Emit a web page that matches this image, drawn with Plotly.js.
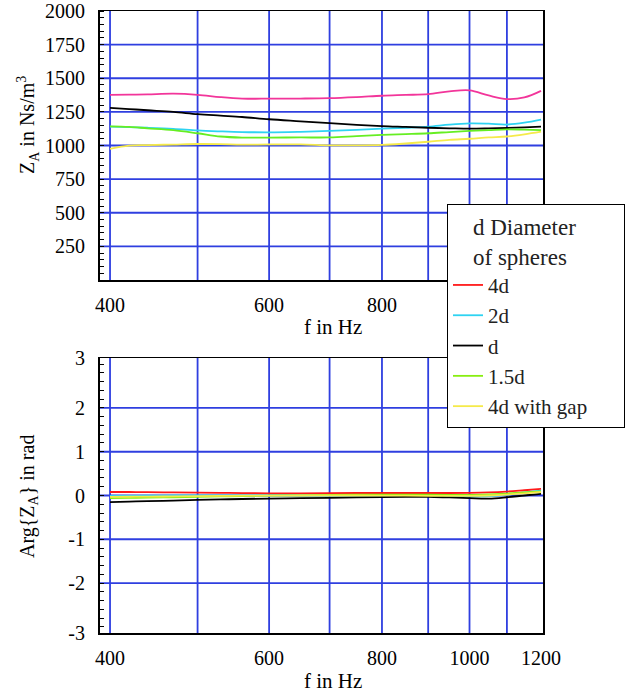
<!DOCTYPE html>
<html>
<head>
<meta charset="utf-8">
<script src="https://cdn.plot.ly/plotly-3.0.1.min.js"></script>
<style>html,body{margin:0;padding:0;background:#fff;}#chart{width:627px;height:696px;}</style>
</head>
<body>
<div id="chart"></div>
<script>
// Frequencies (Hz)
const freq = [400, 420, 440, 470, 500, 530, 560, 600, 650, 700, 750, 800, 850, 900, 950, 1000, 1050, 1100, 1150, 1200];

// Series names
const seriesNames = ['4d', '2d', 'd', '1.5d', '4d with gap'];

// |Z_A| in Ns/m^3 (top chart)
const magA_4d     = [1377, 1378, 1380, 1385, 1377, 1360, 1349, 1348, 1349, 1352, 1360, 1370, 1376, 1382, 1402, 1410, 1372, 1345, 1357, 1406];
const magA_2d     = [1140, 1136, 1132, 1124, 1112, 1105, 1100, 1098, 1102, 1108, 1116, 1125, 1132, 1140, 1155, 1164, 1162, 1156, 1170, 1193];
const magA_d      = [1280, 1271, 1262, 1250, 1233, 1222, 1212, 1195, 1180, 1166, 1154, 1144, 1138, 1132, 1128, 1125, 1127, 1130, 1135, 1140];
const magA_1_5d   = [1142, 1138, 1128, 1114, 1091, 1067, 1059, 1059, 1060, 1060, 1070, 1079, 1085, 1091, 1100, 1108, 1114, 1120, 1118, 1115];
const magA_4dgap  = [975, 999, 1003, 1007, 1011, 1010, 1006, 1008, 1008, 1001, 1001, 1004, 1015, 1028, 1042, 1050, 1060, 1067, 1083, 1103];

// Arg{Z_A} in rad (bottom chart)
const argA_4d     = [0.08, 0.08, 0.075, 0.07, 0.065, 0.06, 0.055, 0.05, 0.05, 0.055, 0.057, 0.057, 0.057, 0.057, 0.057, 0.06, 0.07, 0.09, 0.12, 0.15];
const argA_2d     = [-0.01, -0.01, -0.005, 0, 0, 0, 0, 0, 0, 0, 0, -0.005, -0.01, -0.015, -0.02, -0.025, -0.015, 0.02, 0.07, 0.11];
const argA_d      = [-0.15, -0.14, -0.13, -0.115, -0.10, -0.09, -0.08, -0.07, -0.062, -0.055, -0.045, -0.035, -0.03, -0.03, -0.045, -0.06, -0.07, -0.04, 0.0, 0.035];
const argA_1_5d   = [-0.06, -0.055, -0.05, -0.04, -0.03, -0.022, -0.015, -0.005, 0.005, 0.012, 0.018, 0.02, 0.02, 0.018, 0.015, 0.012, 0.025, 0.045, 0.07, 0.095];
const argA_4dgap  = [-0.03, -0.028, -0.025, -0.02, -0.012, -0.008, -0.005, -0.002, 0, 0, 0, -0.002, -0.005, -0.008, -0.01, -0.01, 0.0, 0.02, 0.05, 0.08];

// Tick labels and grid positions
const xTickVals = [400, 600, 800, 1000, 1200];
const xTickText = ['400', '600', '800', '1000', '1200'];
const xGridVals = [400, 500, 600, 700, 800, 900, 1000, 1100];
const yTopTickVals = [250, 500, 750, 1000, 1250, 1500, 1750, 2000];
const yTopTickText = ['250', '500', '750', '1000', '1250', '1500', '1750', '2000'];
const yTopGridVals = [250, 500, 750, 1000, 1250, 1500, 1750];
const yBotTickVals = [-Math.PI, -2, -1, 0, 1, 2, Math.PI];
const yBotTickText = ['-3', '-2', '-1', '0', '1', '2', '3'];
const yBotGridVals = [-2, -1, 0, 1, 2];

const topColors = ['#f2359a', '#2ed3f2', '#000000', '#66ee22', '#f5ea4a'];
const botColors = ['#ff1a1a', '#2ed3f2', '#000000', '#88ee11', '#f5ea4a'];
const topData = [magA_4d, magA_2d, magA_d, magA_1_5d, magA_4dgap];
const botData = [argA_4d, argA_2d, argA_d, argA_1_5d, argA_4dgap];

const traces = [];
seriesNames.forEach((n, i) => {
  traces.push({x: freq, y: topData[i], xaxis: 'x', yaxis: 'y', type: 'scatter', mode: 'lines',
    name: n, legendgroup: n, showlegend: false, line: {color: topColors[i], width: 1.8, shape: 'spline'}});
});
seriesNames.forEach((n, i) => {
  traces.push({x: freq, y: botData[i], xaxis: 'x2', yaxis: 'y2', type: 'scatter', mode: 'lines',
    name: n, legendgroup: n, showlegend: true, line: {color: botColors[i], width: 1.8, shape: 'spline'}});
});

const W = 627, H = 696;
const gridCol = '#2f3fe0';
const FAM = 'Liberation Serif, Times New Roman, serif';
const font = {family: FAM, size: 20, color: '#000'};
const titleFont = {family: FAM, size: 21, color: '#000'};
const xr = [Math.log10(389.9), Math.log10(1206)];
const NB = '\u00a0';

function xaxisDef(anchor) {
  return {type: 'log', range: xr, domain: [100 / W, 543 / W], anchor: anchor,
    tickmode: 'array', tickvals: xTickVals, ticktext: xTickText, ticks: '',
    ticklabelstandoff: 6, ticklabeloverflow: 'allow', showgrid: false,
    showline: true, linecolor: '#000', linewidth: 1.5, mirror: true, zeroline: false,
    tickfont: font, fixedrange: true};
}

// grid lines drawn as shapes in axis coordinates
const shapes = [];
const gridLine = {color: gridCol, width: 1.8};
[['x', 'y domain'], ['x2', 'y2 domain']].forEach(([xa, ya]) => {
  xGridVals.forEach(v => {
    shapes.push({type: 'line', xref: xa, yref: ya, x0: v, x1: v, y0: 0, y1: 1, layer: 'below', line: gridLine});
  });
});
yTopGridVals.forEach(v => {
  shapes.push({type: 'line', xref: 'x domain', yref: 'y', x0: 0, x1: 1, y0: v, y1: v, layer: 'below', line: gridLine});
});
yBotGridVals.forEach(v => {
  shapes.push({type: 'line', xref: 'x2 domain', yref: 'y2', x0: 0, x1: 1, y0: v, y1: v, layer: 'below', line: gridLine});
});

const layout = {
  width: W, height: H, margin: {l: 0, r: 0, t: 0, b: 0},
  paper_bgcolor: '#fff', plot_bgcolor: '#fff', font: font,
  xaxis: xaxisDef('y'),
  xaxis2: xaxisDef('y2'),
  yaxis: {range: [0, 2000], domain: [(H - 280) / H, (H - 11) / H], anchor: 'x',
    tickmode: 'array', tickvals: yTopTickVals, ticktext: yTopTickText, ticks: '',
    ticklabelstandoff: 9, ticklabeloverflow: 'allow', showgrid: false,
    showline: true, linecolor: '#000', linewidth: 2, mirror: true, zeroline: false,
    minor: {ticks: 'inside', ticklen: 4, tickcolor: '#000', tickwidth: 1, dtick: 50, showgrid: false},
    tickfont: font, fixedrange: true},
  yaxis2: {range: [-Math.PI, Math.PI], domain: [(H - 633) / H, (H - 358) / H], anchor: 'x2',
    tickmode: 'array', tickvals: yBotTickVals, ticktext: yBotTickText, ticks: '',
    ticklabelstandoff: 9, ticklabeloverflow: 'allow', showgrid: false,
    showline: true, linecolor: '#000', linewidth: 2, mirror: true, zeroline: false,
    minor: {ticks: 'inside', ticklen: 4, tickcolor: '#000', tickwidth: 1, dtick: 0.2, showgrid: false},
    tickfont: font, fixedrange: true},
  shapes: shapes,
  showlegend: true,
  legend: {x: 447 / W, y: (H - 204) / H, xanchor: 'left', yanchor: 'top',
    bgcolor: '#fff', bordercolor: '#000', borderwidth: 1,
    font: {family: FAM, size: 21, color: '#222'},
    title: {text: NB.repeat(4) + 'd Diameter' + NB.repeat(8) + '<br>' + NB.repeat(4) + 'of spheres',
      font: {family: FAM, size: 23, color: '#222'}},
    tracegroupgap: 0, itemwidth: 30},
  annotations: [
    {text: 'Z<sub>A</sub> in Ns/m<sup>3</sup>', xref: 'paper', yref: 'paper', x: 28 / W, y: (H - 125) / H,
      xanchor: 'center', yanchor: 'middle', textangle: -90, showarrow: false, font: {family: FAM, size: 20, color: '#000'}},
    {text: 'f in Hz', xref: 'paper', yref: 'paper', x: 333 / W, y: (H - 327) / H,
      xanchor: 'center', yanchor: 'middle', showarrow: false, font: titleFont},
    {text: 'Arg{Z<sub>A</sub>} in rad', xref: 'paper', yref: 'paper', x: 28 / W, y: (H - 497) / H,
      xanchor: 'center', yanchor: 'middle', textangle: -90, showarrow: false, font: {family: FAM, size: 20, color: '#000'}},
    {text: 'f in Hz', xref: 'paper', yref: 'paper', x: 333 / W, y: (H - 681) / H,
      xanchor: 'center', yanchor: 'middle', showarrow: false, font: titleFont}
  ]
};

Plotly.newPlot('chart', traces, layout, {displayModeBar: false, staticPlot: true});
</script>
</body>
</html>
